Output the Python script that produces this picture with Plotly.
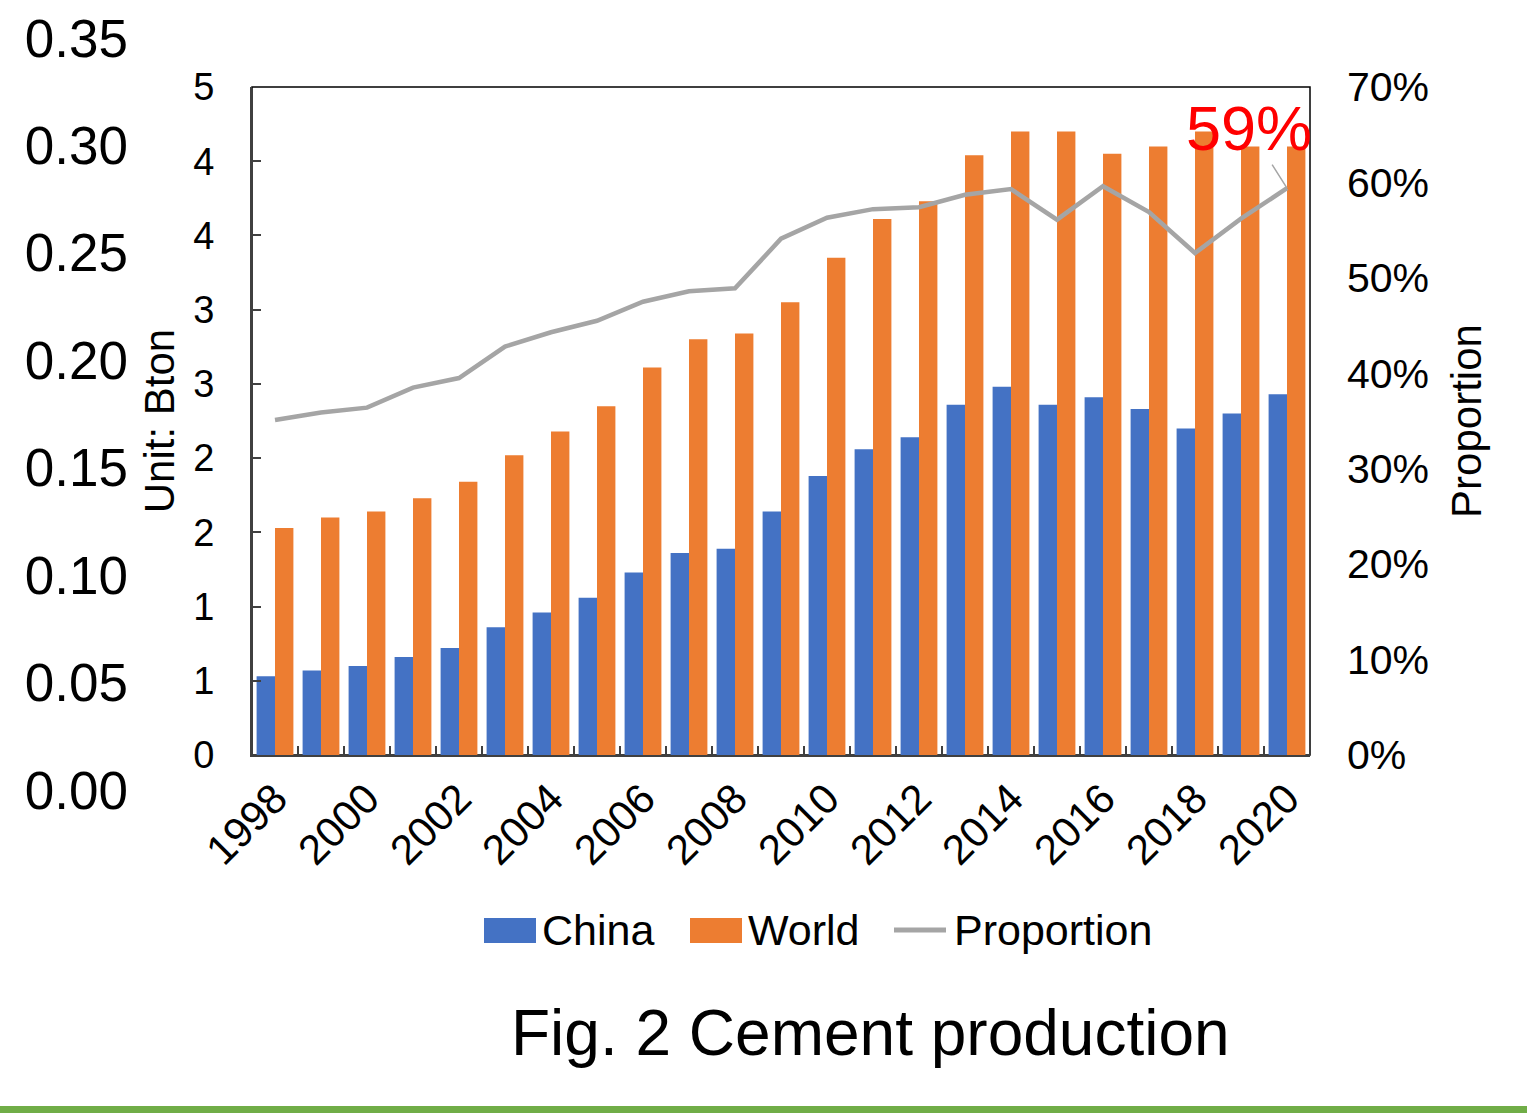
import plotly.graph_objects as go

# ---- data -------------------------------------------------------------
years = list(range(1998, 2021))
china = [0.53, 0.57, 0.60, 0.66, 0.72, 0.86, 0.96, 1.06, 1.23, 1.36, 1.39, 1.64,
         1.88, 2.06, 2.14, 2.36, 2.48, 2.36, 2.41, 2.33, 2.20, 2.30, 2.43]
world = [1.53, 1.60, 1.64, 1.73, 1.84, 2.02, 2.18, 2.35, 2.61, 2.80, 2.84, 3.05,
         3.35, 3.61, 3.73, 4.04, 4.20, 4.20, 4.05, 4.10, 4.20, 4.10, 4.10]
proportion = [0.351, 0.359, 0.364, 0.385, 0.395, 0.428, 0.443, 0.455, 0.475, 0.486,
              0.489, 0.541, 0.563, 0.572, 0.574, 0.587, 0.593, 0.561, 0.596, 0.569,
              0.526, 0.562, 0.594]

year_labels = [str(y) for y in range(1998, 2021, 2)]
left_tickvals = [0, 0.5, 1, 1.5, 2, 2.5, 3, 3.5, 4, 4.5]
left_ticktext = ["0", "1", "1", "2", "2", "3", "3", "4", "4", "5"]
right_tickvals = [0, 0.1, 0.2, 0.3, 0.4, 0.5, 0.6, 0.7]
outer_tickvals = [0, 0.05, 0.10, 0.15, 0.20, 0.25, 0.30, 0.35]

BLUE = "#4472C4"
ORANGE = "#ED7D31"
GRAY = "#A5A5A5"
AXIS = "#404040"
FONT = "Arial, Liberation Sans, sans-serif"

W, H = 1527, 1113
TOP, BOTTOM = 38, 790          # pixel extent of the plotting region


def py(pix):
    """pixel row -> paper y"""
    return (BOTTOM - pix) / (BOTTOM - TOP)


def px(pix):
    return pix / W


fig = go.Figure()

fig.add_trace(go.Bar(x=years, y=china, name="China", marker_color=BLUE,
                     marker_line_width=0, xaxis="x", yaxis="y", showlegend=False))
fig.add_trace(go.Bar(x=years, y=world, name="World", marker_color=ORANGE,
                     marker_line_width=0, xaxis="x", yaxis="y", showlegend=False))
fig.add_trace(go.Scatter(x=years, y=proportion, name="Proportion", mode="lines",
                         line=dict(color=GRAY, width=4.5), xaxis="x", yaxis="y2",
                         showlegend=False))
# carrier for the outer scale on the far left
fig.add_trace(go.Scatter(x=[None], y=[None], xaxis="x3", yaxis="y3",
                         showlegend=False, hoverinfo="skip"))

fig.update_layout(
    width=W, height=H,
    margin=dict(l=0, r=0, t=TOP, b=H - BOTTOM, autoexpand=False),
    paper_bgcolor="white",
    plot_bgcolor="rgba(0,0,0,0)",
    font=dict(family=FONT, color="black"),
    barmode="group", bargap=0.2, bargroupgap=0,
    showlegend=False,
    xaxis=dict(
        domain=[px(252), px(1310)], anchor="y",
        range=[1997.5, 2020.5],
        tickvals=[int(v) for v in year_labels], ticktext=year_labels,
        tickangle=-45, tickfont=dict(size=42), ticks="",
        minor=dict(ticks="inside", ticklen=9, tickcolor=AXIS, tickwidth=2,
                   tick0=1997.5, dtick=1, showgrid=False),
        showline=True, linecolor=AXIS, linewidth=2, showgrid=False,
        zeroline=False, automargin=False,
    ),
    yaxis=dict(
        domain=[py(755), py(87)], anchor="x",
        range=[0, 4.5], tickvals=left_tickvals, ticktext=left_ticktext,
        tickfont=dict(size=38), ticks="inside", ticklen=9, tickcolor=AXIS,
        tickwidth=2, ticklabelstandoff=28,
        showline=True, linecolor=AXIS, linewidth=2, showgrid=False,
        zeroline=False, automargin=False,
        title=dict(text="Unit: Bton", font=dict(size=42), standoff=6),
    ),
    yaxis2=dict(
        overlaying="y", side="right", anchor="x",
        range=[0, 0.7], tickvals=right_tickvals, tickformat=".0%",
        tickfont=dict(size=41), ticks="", ticklabelstandoff=36,
        showline=False, showgrid=False, zeroline=False, automargin=False,
        title=dict(text="Proportion", font=dict(size=42), standoff=23),
    ),
    xaxis3=dict(domain=[0, 0.02], anchor="y3", visible=False, range=[0, 1]),
    yaxis3=dict(
        domain=[0, 1], anchor="free", position=px(128), side="left",
        range=[0, 0.35], tickvals=outer_tickvals, tickformat=".2f",
        tickfont=dict(size=53), ticks="", showline=False, showgrid=False,
        zeroline=False, automargin=False,
    ),
)

shapes = [
    # frame around the plotting area
    dict(type="rect", xref="x domain", yref="y domain", x0=0, x1=1, y0=0, y1=1,
         line=dict(color="black", width=1.5), layer="below"),
    # legend swatches
    dict(type="rect", xref="paper", yref="paper", x0=px(484), x1=px(536),
         y0=py(943), y1=py(918), fillcolor=BLUE, line_width=0),
    dict(type="rect", xref="paper", yref="paper", x0=px(690), x1=px(742),
         y0=py(943), y1=py(918), fillcolor=ORANGE, line_width=0),
    dict(type="line", xref="paper", yref="paper", x0=px(894), x1=px(946),
         y0=py(930), y1=py(930), line=dict(color=GRAY, width=5)),
    # green rule along the bottom edge
    dict(type="rect", xref="paper", yref="paper", x0=0, x1=1,
         y0=py(1113), y1=py(1106), fillcolor="#70AD47", line_width=0),
]
fig.update_layout(shapes=shapes)

annotations = [
    dict(text="China", xref="paper", yref="paper", x=px(540), y=py(930),
         xanchor="left", yanchor="middle", showarrow=False, font=dict(size=43)),
    dict(text="World", xref="paper", yref="paper", x=px(746), y=py(930),
         xanchor="left", yanchor="middle", showarrow=False, font=dict(size=43)),
    dict(text="Proportion", xref="paper", yref="paper", x=px(952), y=py(930),
         xanchor="left", yanchor="middle", showarrow=False, font=dict(size=43)),
    dict(text="Fig. 2 Cement production", xref="paper", yref="paper",
         x=px(870), y=py(1033), xanchor="center", yanchor="middle",
         showarrow=False, font=dict(size=64)),
    # value label on the last point
    dict(text=f"{proportion[-1]:.0%}", x=years[-1], y=proportion[-1],
         xref="x", yref="y2", showarrow=True, arrowhead=0, arrowwidth=1.5,
         arrowcolor=GRAY, ax=-38, ay=-60, standoff=0,
         font=dict(size=63, color="#FF0000")),
]
fig.update_layout(annotations=annotations)

fig.write_html("out.html")
